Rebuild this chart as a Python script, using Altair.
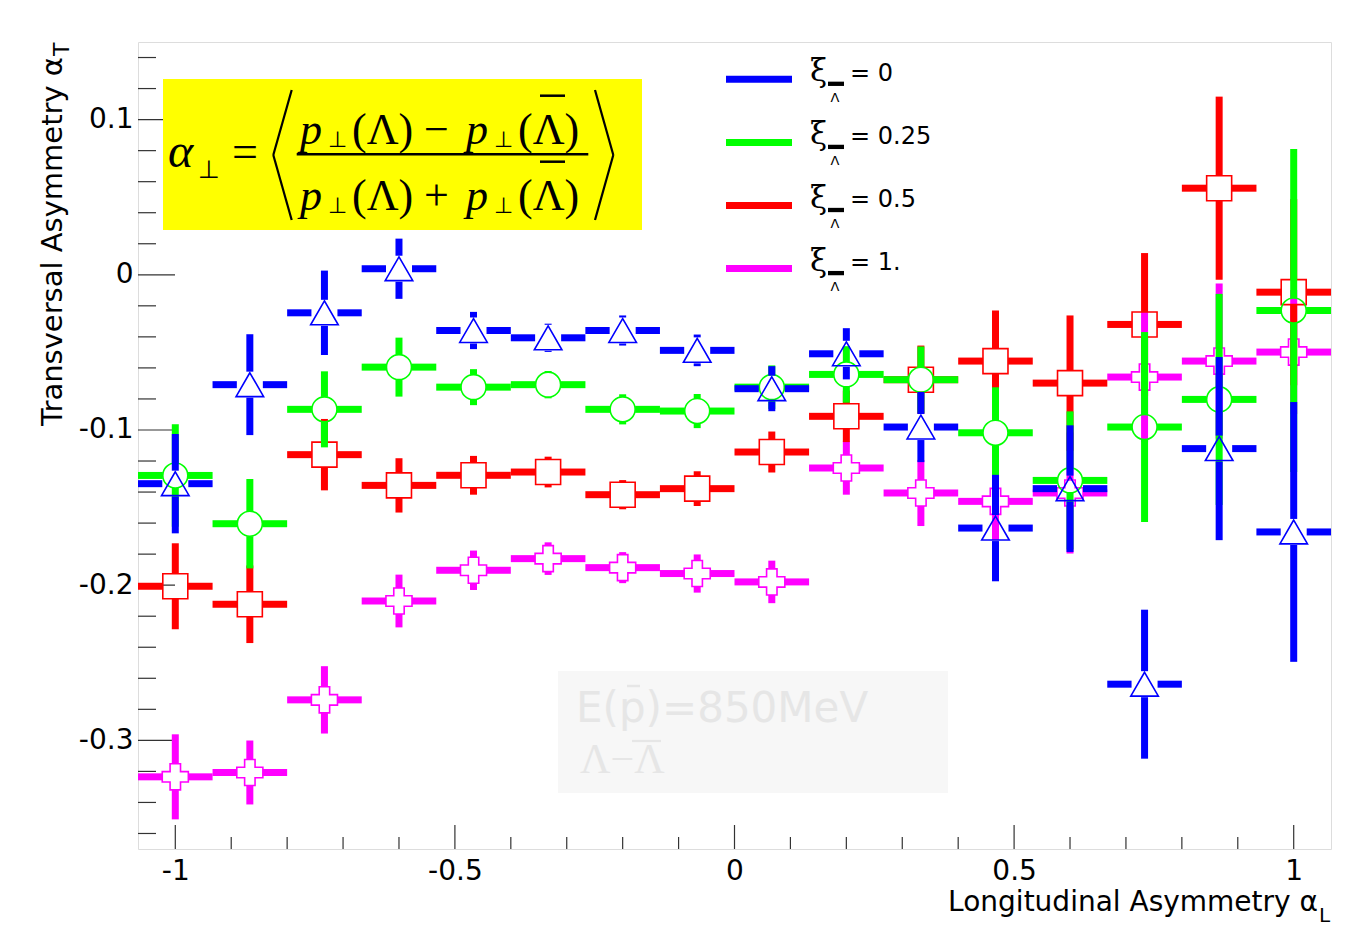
import altair as alt
import pandas as pd

# ---------------- data ----------------
x_centers = [-1.0, -0.8667, -0.7333, -0.6, -0.4667, -0.3333, -0.2, -0.0667,
             0.0667, 0.2, 0.3333, 0.4667, 0.6, 0.7333, 0.8667, 1.0]
x_half_width = 0.0667

series_keys = ["xi0", "xi025", "xi05", "xi1"]
legend_values = ["= 0", "= 0.25", "= 0.5", "= 1."]
series_colors = ["#0000ff", "#00ff00", "#ff0000", "#ff00ff"]
series_shapes = ["triangle-up", "circle", "square", "cross"]

y_xi0 = [-0.1346, -0.0708, -0.0245, 0.0039, -0.0359, -0.0406, -0.0359, -0.0487,
         -0.0734, -0.0509, -0.0981, -0.1632, -0.1378, -0.2638, -0.1120, -0.1657]
e_xi0 = [0.0320, 0.0325, 0.0272, 0.0194, 0.0120, 0.0091, 0.0097, 0.0102,
         0.0145, 0.0165, 0.0226, 0.0343, 0.0408, 0.0480, 0.0590, 0.0837]

y_xi025 = [-0.1293, -0.1604, -0.0867, -0.0595, -0.0724, -0.0708, -0.0867, -0.0878,
           -0.0724, -0.0642, -0.0676, -0.1018, -0.1325, -0.0981, -0.0803, -0.0230]
e_xi025 = [0.0330, 0.0288, 0.0245, 0.0190, 0.0116, 0.0088, 0.0097, 0.0110,
           0.0140, 0.0182, 0.0214, 0.0293, 0.0445, 0.0612, 0.0680, 0.1040]

y_xi05 = [-0.2007, -0.2123, -0.1159, -0.1357, -0.1292, -0.1271, -0.1417, -0.1378,
          -0.1142, -0.0912, -0.0676, -0.0556, -0.0698, -0.0320, 0.0558, -0.0112]
e_xi05 = [0.0277, 0.0250, 0.0230, 0.0175, 0.0125, 0.0099, 0.0094, 0.0112,
          0.0132, 0.0166, 0.0220, 0.0326, 0.0436, 0.0460, 0.0590, 0.0600]

y_xi1 = [-0.3235, -0.3207, -0.2739, -0.2102, -0.1904, -0.1829, -0.1887, -0.1925,
         -0.1979, -0.1245, -0.1406, -0.1460, -0.1406, -0.0659, -0.0556, -0.0498]
e_xi1 = [0.0274, 0.0206, 0.0217, 0.0170, 0.0127, 0.0105, 0.0100, 0.0123,
         0.0137, 0.0172, 0.0213, 0.0250, 0.0390, 0.0420, 0.0500, 0.0400]

y_major = [-0.3, -0.2, -0.1, 0.0, 0.1]
y_minor = [-0.36, -0.34, -0.32, -0.28, -0.26, -0.24, -0.22, -0.18, -0.16, -0.14,
           -0.12, -0.08, -0.06, -0.04, -0.02, 0.02, 0.04, 0.06, 0.08, 0.12, 0.14]
x_major = [-1.0, -0.5, 0.0, 0.5, 1.0]
x_minor = [-0.9, -0.8, -0.7, -0.6, -0.4, -0.3, -0.2, -0.1,
           0.1, 0.2, 0.3, 0.4, 0.6, 0.7, 0.8, 0.9]

values = {"xi0": y_xi0, "xi025": y_xi025, "xi05": y_xi05, "xi1": y_xi1}
errors = {"xi0": e_xi0, "xi025": e_xi025, "xi05": e_xi05, "xi1": e_xi1}
draw_order = ["xi1", "xi05", "xi025", "xi0"]

# ---------------- layout ----------------
W, H = 1193, 807
X_DOM = [-1.0667, 1.0667]
Y_DOM = [-0.37, 0.15]
ORIG_X, ORIG_Y = 138, 42  # page position of plot origin


def px(xp):
    return xp - ORIG_X


def py(yp):
    return yp - ORIG_Y


xs = alt.Scale(domain=X_DOM, nice=False, zero=False)
ys = alt.Scale(domain=Y_DOM, nice=False, zero=False)

LABEL_EXPR = "datum.value < 0 ? '-' + format(-datum.value, '~g') : format(datum.value, '~g')"
xaxis = alt.Axis(values=x_major, title=None, ticks=False, domain=False, grid=False,
                 labelFont="DejaVu Sans", labelFontSize=28, labelColor="black",
                 labelPadding=8, labelExpr=LABEL_EXPR, labelFlush=False, labelOverlap=False)
yaxis = alt.Axis(values=y_major, title=None, ticks=False, domain=False, grid=False,
                 labelFont="DejaVu Sans", labelFontSize=28, labelColor="black",
                 labelPadding=5, labelExpr=LABEL_EXPR, labelFlush=False, labelOverlap=False)


def X(f):
    return alt.X(f, scale=xs, axis=xaxis)


def Y(f):
    return alt.Y(f, scale=ys, axis=yaxis)


one = alt.Data(values=[{}])


def txt(text, xp, yp, size, font="DejaVu Sans", style="normal", align="left",
        angle=None, color="black", baseline="alphabetic"):
    kw = dict(text=text, align=align, baseline=baseline, font=font, fontSize=size,
              color=color, fontStyle=style)
    if angle is not None:
        kw["angle"] = angle
    return alt.Chart(one).mark_text(**kw).encode(x=alt.value(px(xp)), y=alt.value(py(yp)))


def seg(x1, y1, x2, y2, color="black", width=2.0):
    return alt.Chart(one).mark_rule(color=color, strokeWidth=width, strokeCap="butt").encode(
        x=alt.value(px(x1)), y=alt.value(py(y1)), x2=alt.value(px(x2)), y2=alt.value(py(y2)))


def box(x1, y1, x2, y2, fill):
    return alt.Chart(one).mark_rect(color=fill).encode(
        x=alt.value(px(x1)), y=alt.value(py(y1)), x2=alt.value(px(x2)), y2=alt.value(py(y2)))


layers = []

# ---- ticks (inside the frame, ROOT style) ----
tick_col = "#333333"
layers.append(alt.Chart(pd.DataFrame({"v": y_major})).mark_rule(color=tick_col, strokeWidth=1.2)
              .encode(y=Y("v:Q"), x=alt.value(0), x2=alt.value(37)))
layers.append(alt.Chart(pd.DataFrame({"v": y_minor})).mark_rule(color=tick_col, strokeWidth=1.2)
              .encode(y=Y("v:Q"), x=alt.value(0), x2=alt.value(18)))
layers.append(alt.Chart(pd.DataFrame({"v": x_major})).mark_rule(color=tick_col, strokeWidth=1.2)
              .encode(x=X("v:Q"), y=alt.value(H), y2=alt.value(H - 24)))
layers.append(alt.Chart(pd.DataFrame({"v": x_minor})).mark_rule(color=tick_col, strokeWidth=1.2)
              .encode(x=X("v:Q"), y=alt.value(H), y2=alt.value(H - 12)))

# ---- data: error bars with a gap around the marker, then hollow markers ----
dx_per_px = (X_DOM[1] - X_DOM[0]) / W
dy_per_px = (Y_DOM[1] - Y_DOM[0]) / H
marker_half = {"xi0": 13.0, "xi025": 12.5, "xi05": 12.5, "xi1": 13.0}
marker_size = {"xi0": 760, "xi025": 625, "xi05": 625, "xi1": 680}

for key in draw_order:
    i = series_keys.index(key)
    color = series_colors[i]
    gx = marker_half[key] * dx_per_px
    gy = marker_half[key] * dy_per_px
    rows = []
    for xc, yc, e in zip(x_centers, values[key], errors[key]):
        rows.append(dict(x=xc - x_half_width, x2=xc - gx, y=yc, y2=yc))
        rows.append(dict(x=xc + gx, x2=xc + x_half_width, y=yc, y2=yc))
        if e > gy:
            rows.append(dict(x=xc, x2=xc, y=yc - e, y2=yc - gy))
            rows.append(dict(x=xc, x2=xc, y=yc + gy, y2=yc + e))
    seg_df = pd.DataFrame(rows)
    layers.append(alt.Chart(seg_df).mark_rule(color=color, strokeWidth=7, strokeCap="butt", clip=True)
                  .encode(x=X("x:Q"), x2="x2:Q", y=Y("y:Q"), y2="y2:Q"))
    pts = pd.DataFrame({"x": x_centers, "y": values[key]})
    layers.append(alt.Chart(pts).mark_point(shape=series_shapes[i], size=marker_size[key],
                                            filled=False, color=color, strokeWidth=1.6,
                                            opacity=1, clip=True)
                  .encode(x=X("x:Q"), y=Y("y:Q")))

# ---- formula box ----
layers.append(box(163, 79, 642, 230, "#ffff00"))
SERIF = "Liberation Serif"
layers.append(txt("α", 168, 167, 48, font=SERIF, style="italic"))
layers.append(txt("⊥", 198, 178, 25))
layers.append(txt("=", 232, 167, 46, font=SERIF))
for base, op in [(143.5, "−"), (209.5, "+")]:
    layers.append(txt("p", 300, base, 44, font=SERIF, style="italic"))
    layers.append(txt("⊥", 328, base + 3.5, 22))
    layers.append(txt("(Λ)", 352, base, 44, font=SERIF))
    layers.append(txt(op, 424, base, 44, font=SERIF))
    layers.append(txt("p", 466, base, 44, font=SERIF, style="italic"))
    layers.append(txt("⊥", 494, base + 3.5, 22))
    layers.append(txt("(Λ)", 518, base, 44, font=SERIF))
    layers.append(seg(540, base - 47.8, 565, base - 47.8, width=2.5))
layers.append(seg(296.7, 154.3, 588.3, 154.3, width=2.5))
layers.append(seg(291.7, 90, 273.3, 155, width=2.2))
layers.append(seg(273.3, 155, 291.7, 220, width=2.2))
layers.append(seg(595, 90, 613.3, 155, width=2.2))
layers.append(seg(613.3, 155, 595, 220, width=2.2))

# ---- legend ----
for i, key in enumerate(series_keys):
    ly = 79.3 + 63.1 * i
    layers.append(seg(726, ly, 792, ly, color=series_colors[i], width=7))
    layers.append(txt("ξ", 810, ly + 2, 31, font="DejaVu Serif"))
    layers.append(seg(828, ly + 4.5, 844, ly + 4.5, width=4.3))
    layers.append(txt("Λ", 835, ly + 22.4, 13, align="center"))
    layers.append(txt(legend_values[i], 850, ly + 1.4, 24))

# ---- watermark ----
WM = "#e6e6e6"
layers.append(box(558, 671, 948, 793, "#f7f7f7"))
layers.append(txt("E(p)=850MeV", 576, 721.7, 42, color=WM))
layers.append(seg(627, 686, 640, 686, color=WM, width=2.5))
layers.append(txt("Λ−Λ", 580, 773.3, 42, font=SERIF, color=WM))
layers.append(seg(632, 741, 661, 741, color=WM, width=2.2))

# ---- axis titles ----
layers.append(txt("Longitudinal Asymmetry α", 1318, 910.7, 28, align="right"))
layers.append(txt("L", 1319, 922, 20))
layers.append(txt("Transversal Asymmetry α", 61.7, 57, 29, align="right", angle=270))
layers.append(txt("T", 69, 56, 22, align="left", angle=270))

chart = alt.layer(*layers).properties(
    width=W, height=H,
    padding={"left": 130, "top": 34, "right": 25, "bottom": 81},
    autosize=alt.AutoSizeParams(type="none"),
).configure_view(stroke="#222222", strokeWidth=1.3).configure(background="white")

chart.save("out.html", embed_options={"renderer": "svg", "actions": False})
